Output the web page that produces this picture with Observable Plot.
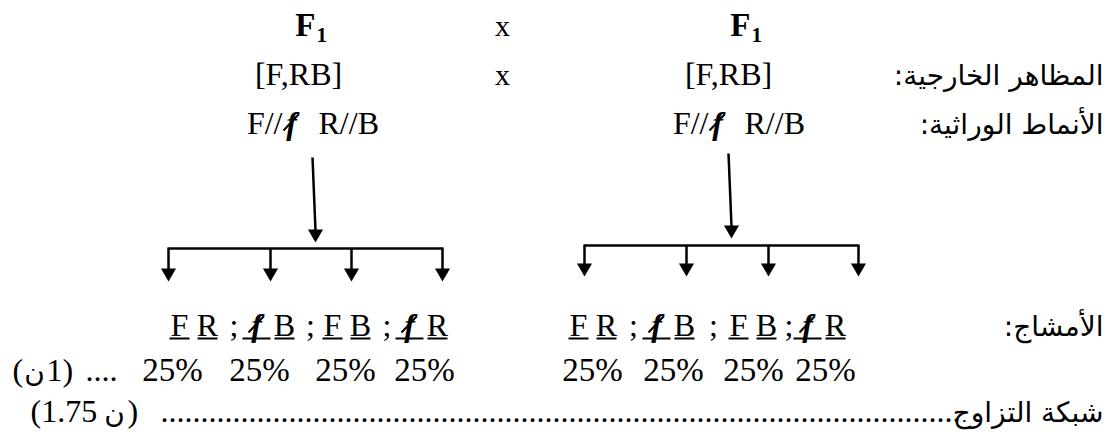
<!DOCTYPE html>
<html><head><meta charset="utf-8">
<script src="https://cdn.jsdelivr.net/npm/d3@7"></script>
<script src="https://cdn.jsdelivr.net/npm/@observablehq/plot@0.6"></script>
<style>body{margin:0;background:#fff} svg{display:block}</style>
</head><body><div id="chart"></div>
<script>
// ---------- data ----------
const parents = ["F", "F"];
const parentSub = ["1", "1"];
const cross = "x";
const phenotypes = ["[F,RB]", "[F,RB]"];
const genotypes = [["F//", "f", "R//B"], ["F//", "f", "R//B"]];
const gametes = [["F", "R"], ["f", "B"], ["F", "B"], ["f", "R"]];
const gameteFreq = [25, 25, 25, 25];
const rowLabels = ["المظاهر الخارجية:\u200F", "الأنماط الوراثية:\u200F", "الأمشاج:\u200F"];
const scoreGametes = ["(", "ن", "1)"];        // (ن1)
const scoreCross = ["(1.75", "ن", ")"];         // (1.75 ن)
const footerLabel = "شبكة التزاوج";
const recessive = "f";

// ---------- layout ----------
const W = 1115, H = 441;
const serif = "'Liberation Serif', 'Times New Roman', serif";
const arabic = "'DejaVu Sans', sans-serif";
const rowY = [35, 84, 133, 335, 380, 421];
const parentX = [315, 750];
const crossX = 502;
const phenX = [298, 728];
const genoX = [282, 708];
const groupX = [[193, 270, 346, 423], [592, 670, 752, 821]];
const freqX = [[172, 259, 345, 424], [592, 673, 753, 825]];
const arrowTopX = [312, 728], arrowTopY = [157, 153];
const arrowTipX = [315, 731], arrowTipY = [242, 238];
const barY = [248, 245];
const dropX = [[168, 270, 351, 442], [584, 686, 768, 858]];
const dropTip = [281, 276];
const labelRight = 1103;
const sides = [0, 1];

// ---------- tables ----------
const parentRows = parents.map((t, i) => ({x: parentX[i], y: rowY[0], t}));
const subRows = parentSub.map((t, i) => ({x: parentX[i] + 1, y: rowY[0] + 6, t}));
const crossRows = [0, 1].map(r => ({x: crossX, y: rowY[r], t: cross}));
const phenRows = phenotypes.map((t, i) => ({x: phenX[i], y: rowY[1], t}));
const genoA = genotypes.map((g, i) => ({x: genoX[i], y: rowY[2], t: g[0]}));
const genoF = genotypes.map((g, i) => ({x: genoX[i] + 9, y: rowY[2], t: g[1]}));
const genoB = genotypes.map((g, i) => ({x: genoX[i] + 36, y: rowY[2], t: g[2]}));

const alleles = [];
sides.forEach(s => gametes.forEach((g, gi) => g.forEach((a, ai) => {
  alleles.push({x: groupX[s][gi] + (ai ? 14 : -14), y: rowY[3], t: a, rec: a === recessive});
})));
const semis = [];
sides.forEach(s => [0, 1, 2].forEach(i => semis.push({x: (groupX[s][i] + groupX[s][i + 1]) / 2 + 2, y: rowY[3], t: ";"})));
const freqRows = [];
sides.forEach(s => gameteFreq.forEach((f, i) => freqRows.push({x: freqX[s][i], y: rowY[4], t: f + "%"})));
const labelRows = [
  {x: labelRight, y: rowY[1], t: rowLabels[0]},
  {x: labelRight, y: rowY[2], t: rowLabels[1]},
  {x: labelRight, y: rowY[3], t: rowLabels[2]}
];
const footer = [{x: labelRight, y: rowY[5], t: footerLabel}];
const dotsEnd = [{x: 960, y: rowY[5], t: ".".repeat(100)}];
const dotsStart = [{x: 85, y: rowY[4], t: "...."}];
const scoreLatin = [
  {x: 12, y: rowY[4], t: scoreGametes[0], a: "start"},
  {x: 46, y: rowY[4], t: scoreGametes[2], a: "start"},
  {x: 30, y: rowY[5], t: scoreCross[0], a: "start"},
  {x: 127, y: rowY[5], t: scoreCross[2], a: "start"}
];
const scoreArabic = [
  {x: 34, y: rowY[4], t: scoreGametes[1]},
  {x: 114, y: rowY[5], t: scoreCross[1]}
];

const links = [];
const heads = [];
sides.forEach(s => {
  links.push({x1: arrowTopX[s], y1: arrowTopY[s], x2: arrowTipX[s], y2: arrowTipY[s] - 12});
  heads.push({x: arrowTipX[s], y: arrowTipY[s] - 8.7});
  links.push({x1: dropX[s][0] - 1, y1: barY[s], x2: dropX[s][3] + 1, y2: barY[s]});
  dropX[s].forEach(x => {
    links.push({x1: x, y1: barY[s], x2: x, y2: dropTip[s] - 12});
    heads.push({x, y: dropTip[s] - 8.7});
  });
});
const underlines = alleles.map(a => ({x1: a.x - (a.rec ? 14 : 10), x2: a.x + (a.rec ? 14 : 10), y: a.y + 3}));
const slashes = alleles.filter(a => a.rec).concat(genoF)
  .map(a => ({x1: a.x - 8, y1: a.y - 3, x2: a.x + 7, y2: a.y - 19}));

const T = (data, o) => Plot.text(data, {x: "x", y: "y", text: "t", lineAnchor: "bottom", fill: "black", ...o});

const chart = Plot.plot({
  width: W, height: H, margin: 0,
  x: {domain: [0, W], range: [0, W], axis: null},
  y: {domain: [0, H], range: [0, H], axis: null},
  style: {background: "white"},
  marks: [
    T(parentRows, {textAnchor: "end", fontSize: 33, fontWeight: "bold", fontFamily: serif}),
    T(subRows, {textAnchor: "start", fontSize: 21, fontWeight: "bold", fontFamily: serif}),
    T(crossRows, {textAnchor: "middle", fontSize: 30, fontFamily: serif}),
    T(phenRows, {textAnchor: "middle", fontSize: 32, fontFamily: serif}),
    T(genoA, {textAnchor: "end", fontSize: 32, fontFamily: serif}),
    T(genoF, {textAnchor: "middle", fontSize: 32, fontFamily: serif, fontWeight: "bold", fontStyle: "italic"}),
    T(genoB, {textAnchor: "start", fontSize: 32, fontFamily: serif}),
    T(alleles.filter(a => !a.rec), {textAnchor: "middle", fontSize: 32, fontFamily: serif}),
    T(alleles.filter(a => a.rec), {textAnchor: "middle", fontSize: 32, fontFamily: serif, fontWeight: "bold", fontStyle: "italic"}),
    T(semis, {textAnchor: "middle", fontSize: 32, fontFamily: serif}),
    T(freqRows, {textAnchor: "middle", fontSize: 33, fontFamily: serif}),
    T(labelRows, {textAnchor: "end", fontSize: 28, fontFamily: arabic}),
    T(footer, {textAnchor: "end", fontSize: 28, fontFamily: arabic}),
    T(dotsEnd, {textAnchor: "end", fontSize: 32, fontFamily: serif}),
    T(dotsStart, {textAnchor: "start", fontSize: 32, fontFamily: serif}),
    T(scoreLatin, {textAnchor: "start", fontSize: 32, fontFamily: serif}),
    T(scoreArabic, {textAnchor: "middle", fontSize: 28, fontFamily: arabic}),
    Plot.link(links, {x1: "x1", y1: "y1", x2: "x2", y2: "y2", stroke: "black", strokeWidth: 2.5}),
    Plot.dot(heads, {x: "x", y: "y", symbol: "triangle", r: 5.6, rotate: 180, fill: "black", stroke: null}),
    Plot.link(underlines, {x1: "x1", x2: "x2", y1: "y", y2: "y", stroke: "black", strokeWidth: 2}),
    Plot.link(slashes, {x1: "x1", y1: "y1", x2: "x2", y2: "y2", stroke: "black", strokeWidth: 2})
  ]
});
document.getElementById("chart").appendChild(chart);
</script>
</body></html>
